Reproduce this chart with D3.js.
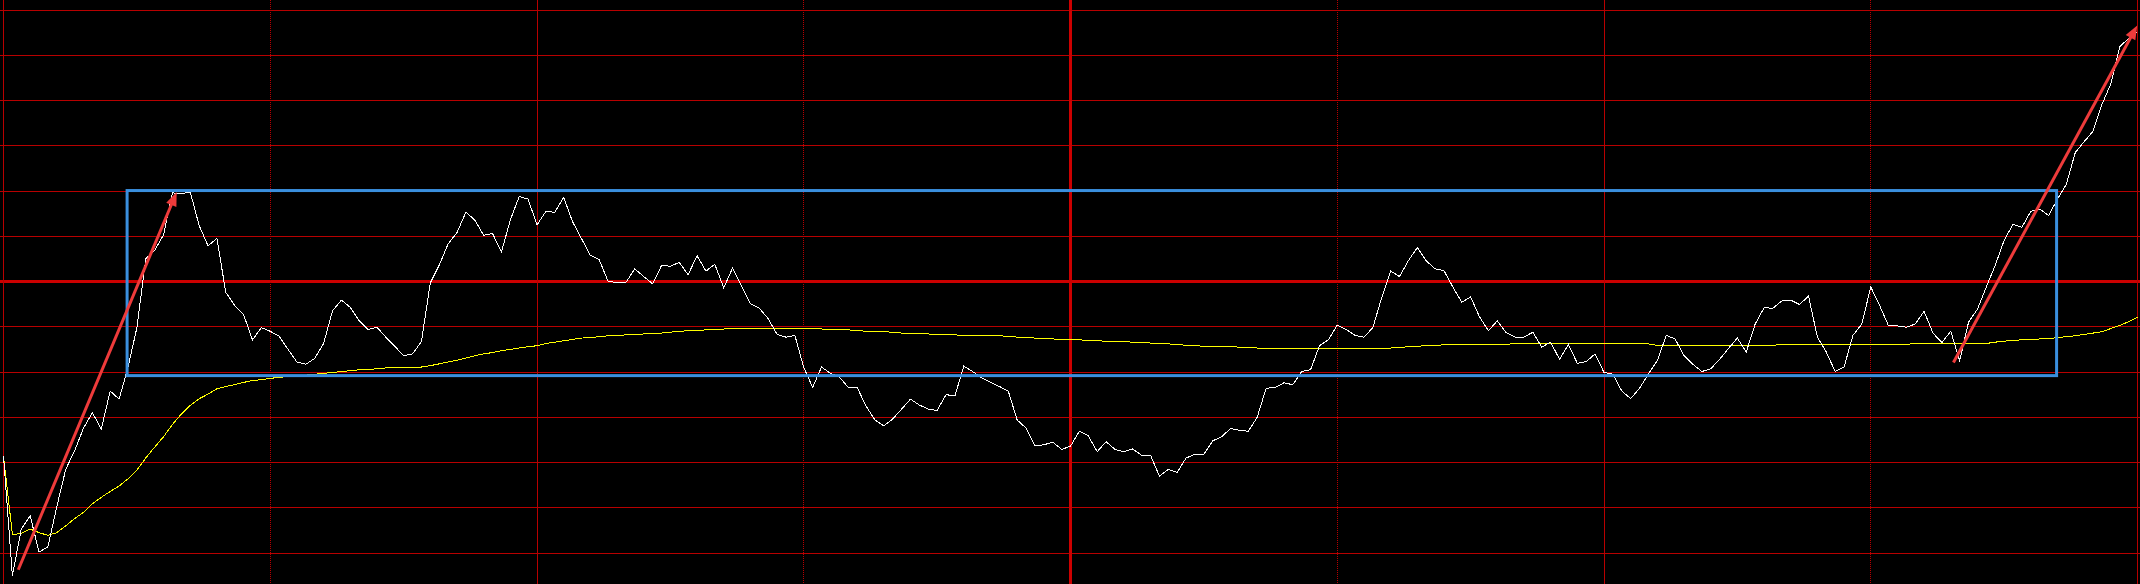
<!DOCTYPE html>
<html><head><meta charset="utf-8">
<script src="https://cdn.jsdelivr.net/npm/d3@7"></script>
<style>html,body{margin:0;padding:0;background:#000;overflow:hidden}</style>
</head><body><svg id="c" width="2140" height="584"></svg>
<script>
// intraday minutes 0..240, values are % change from previous close
const minutes = d3.range(0, 241);
const price = [
-3.86,-6.50,-5.47,-5.18,-5.98,-5.86,-4.97,-4.15,-3.74,-3.24,
-2.90,-3.26,-2.42,-2.60,-1.90,-1.02,0.50,0.69,1.03,1.96,
1.94,1.98,1.24,0.79,0.95,-0.24,-0.53,-0.73,-1.29,-1.02,
-1.10,-1.21,-1.50,-1.78,-1.83,-1.70,-1.37,-0.65,-0.41,-0.57,
-0.87,-1.06,-1.01,-1.23,-1.43,-1.64,-1.60,-1.33,-0.03,0.36,
0.83,1.08,1.53,1.36,1.02,1.06,0.65,1.36,1.88,1.82,
1.25,1.55,1.53,1.86,1.32,0.95,0.58,0.48,0.00,-0.02,
-0.02,0.28,0.11,-0.05,0.35,0.34,0.42,0.15,0.57,0.23,
0.38,-0.14,0.30,-0.10,-0.49,-0.59,-0.82,-1.17,-1.23,-1.19,
-1.90,-2.34,-1.89,-2.03,-2.11,-2.34,-2.34,-2.75,-3.06,-3.19,
-3.04,-2.82,-2.60,-2.73,-2.82,-2.85,-2.50,-2.53,-1.87,-1.99,
-2.13,-2.23,-2.32,-2.42,-3.06,-3.24,-3.63,-3.61,-3.55,-3.71,
-3.64,-3.31,-3.41,-3.76,-3.54,-3.71,-3.76,-3.70,-3.84,-3.84,
-4.30,-4.15,-4.22,-3.90,-3.82,-3.82,-3.52,-3.43,-3.25,-3.29,
-3.31,-3.00,-2.36,-2.34,-2.24,-2.28,-1.99,-1.95,-1.42,-1.29,
-0.96,-1.06,-1.19,-1.23,-1.02,-0.36,0.23,0.11,0.46,0.75,
0.46,0.28,0.24,-0.12,-0.46,-0.34,-0.78,-1.09,-0.87,-1.13,
-1.23,-1.23,-1.12,-1.45,-1.34,-1.72,-1.39,-1.81,-1.77,-1.60,
-2.01,-2.05,-2.42,-2.59,-2.36,-2.04,-1.75,-1.19,-1.27,-1.64,
-1.83,-1.99,-1.93,-1.72,-1.48,-1.25,-1.56,-0.94,-0.58,-0.59,
-0.43,-0.41,-0.51,-0.32,-1.23,-1.56,-1.99,-1.89,-1.19,-0.94,
-0.12,-0.53,-0.98,-0.98,-1.01,-0.94,-0.66,-1.14,-1.35,-1.10,
-1.75,-0.90,-0.61,-0.12,0.36,0.91,1.26,1.20,1.55,1.60,
1.46,1.82,2.15,2.85,3.09,3.32,3.91,4.37,5.19,5.37,
5.52];
const avgPrice = [
-3.86,-5.59,-5.57,-5.47,-5.55,-5.61,-5.55,-5.40,-5.24,-5.10,
-4.91,-4.77,-4.64,-4.52,-4.36,-4.17,-3.90,-3.66,-3.43,-3.16,
-2.93,-2.74,-2.59,-2.49,-2.37,-2.32,-2.28,-2.23,-2.19,-2.17,
-2.14,-2.12,-2.10,-2.08,-2.07,-2.05,-2.03,-2.01,-1.99,-1.97,
-1.95,-1.94,-1.93,-1.91,-1.90,-1.90,-1.90,-1.89,-1.86,-1.82,
-1.78,-1.74,-1.69,-1.64,-1.60,-1.57,-1.53,-1.50,-1.47,-1.44,
-1.42,-1.37,-1.34,-1.31,-1.28,-1.25,-1.24,-1.22,-1.20,-1.19,
-1.18,-1.17,-1.16,-1.15,-1.14,-1.12,-1.10,-1.09,-1.08,-1.07,
-1.06,-1.05,-1.04,-1.04,-1.04,-1.04,-1.04,-1.04,-1.04,-1.04,
-1.04,-1.04,-1.05,-1.05,-1.06,-1.07,-1.08,-1.10,-1.11,-1.11,
-1.12,-1.14,-1.15,-1.16,-1.16,-1.17,-1.18,-1.18,-1.19,-1.19,
-1.19,-1.20,-1.20,-1.21,-1.23,-1.24,-1.25,-1.26,-1.27,-1.28,
-1.28,-1.29,-1.30,-1.31,-1.32,-1.33,-1.33,-1.34,-1.35,-1.36,
-1.37,-1.38,-1.39,-1.41,-1.42,-1.43,-1.43,-1.43,-1.44,-1.45,
-1.46,-1.47,-1.48,-1.48,-1.48,-1.48,-1.48,-1.48,-1.48,-1.48,
-1.48,-1.48,-1.48,-1.48,-1.48,-1.48,-1.47,-1.46,-1.44,-1.43,
-1.42,-1.41,-1.40,-1.39,-1.39,-1.39,-1.39,-1.39,-1.39,-1.39,
-1.37,-1.37,-1.37,-1.37,-1.37,-1.37,-1.37,-1.37,-1.37,-1.37,
-1.38,-1.38,-1.38,-1.38,-1.38,-1.38,-1.41,-1.41,-1.41,-1.41,
-1.41,-1.41,-1.41,-1.41,-1.41,-1.41,-1.41,-1.41,-1.41,-1.41,
-1.39,-1.39,-1.39,-1.39,-1.39,-1.39,-1.39,-1.39,-1.39,-1.39,
-1.39,-1.39,-1.39,-1.39,-1.39,-1.37,-1.37,-1.37,-1.37,-1.37,
-1.37,-1.37,-1.37,-1.37,-1.34,-1.32,-1.30,-1.29,-1.28,-1.27,
-1.26,-1.24,-1.22,-1.20,-1.17,-1.14,-1.11,-1.04,-0.97,-0.89,
-0.79];
const gridLevels = d3.range(-6, 7);            // horizontal grid (1 step each)
const timeLines = [0, 30, 60, 90, 120, 150, 180, 210, 240];
const timeLineKinds = ["solid","dot","solid","dot","thick","dot","solid","dot","solid"];
// annotation: consolidation box and two trend arrows (minute, value)
const boxMinutes = [13.9, 230.9];
const boxValues = [-2.08, 2.01];
const arrowFrom = [[1.66, -6.37], [219.3, -1.79]];
const arrowTo   = [[19.48, 1.98], [239.97, 5.66]];

const W = 2140, H = 584;
const svg = d3.select("#c");
svg.append("rect").attr("width", W).attr("height", H).attr("fill", "#000");

const x = d3.scaleLinear().domain([0, 240]).range([3.5, 2137.5]);
const y = d3.scaleLinear().domain([-6, 6]).range([553, 10]);

const grid = svg.append("g").attr("shape-rendering", "crispEdges");
grid.selectAll("line.h").data(gridLevels).join("line")
  .attr("x1", 0).attr("x2", W)
  .attr("y1", d => y(d)).attr("y2", d => y(d))
  .attr("stroke", d => d === 0 ? "#cc0000" : "#b80000")
  .attr("stroke-width", d => d === 0 ? 3 : 1);
grid.selectAll("line.v").data(timeLines).join("line")
  .attr("x1", d => x(d)).attr("x2", d => x(d))
  .attr("y1", 0).attr("y2", H)
  .attr("stroke", (d, i) => timeLineKinds[i] === "thick" ? "#cc0000" : "#b80000")
  .attr("stroke-width", (d, i) => timeLineKinds[i] === "thick" ? 3 : 1)
  .attr("stroke-dasharray", (d, i) => timeLineKinds[i] === "dot" ? "1,1" : null);

const line = d3.line().x((d, i) => x(minutes[i])).y(d => y(d));
svg.append("path").datum(avgPrice).attr("d", line)
  .attr("fill", "none").attr("stroke", "#ffff00").attr("stroke-width", 1)
  .attr("shape-rendering", "crispEdges");
svg.append("path").datum(price).attr("d", line)
  .attr("fill", "none").attr("stroke", "#ffffff").attr("stroke-width", 1)
  .attr("shape-rendering", "crispEdges");

svg.append("rect")
  .attr("x", x(boxMinutes[0])).attr("y", y(boxValues[1]))
  .attr("width", x(boxMinutes[1]) - x(boxMinutes[0]))
  .attr("height", y(boxValues[0]) - y(boxValues[1]))
  .attr("fill", "none").attr("stroke", "#3a8fde").attr("stroke-width", 3);

const arrowColor = "#ee3b3b";
arrowFrom.forEach((f, k) => {
  const t = arrowTo[k];
  const x1 = x(f[0]), y1 = y(f[1]), x2 = x(t[0]), y2 = y(t[1]);
  const dx = x2 - x1, dy = y2 - y1, len = Math.hypot(dx, dy);
  const ux = dx / len, uy = dy / len, px = -uy, py = ux;
  const hl = 14, hw = 5.5;
  svg.append("line")
    .attr("x1", x1).attr("y1", y1)
    .attr("x2", x2 - ux * (hl - 2)).attr("y2", y2 - uy * (hl - 2))
    .attr("stroke", arrowColor).attr("stroke-width", 3);
  const bx = x2 - ux * hl, by = y2 - uy * hl;
  svg.append("polygon")
    .attr("points", [[x2, y2], [bx + px * hw, by + py * hw], [bx - px * hw, by - py * hw]].map(p => p.join(",")).join(" "))
    .attr("fill", arrowColor);
});
</script></body></html>
